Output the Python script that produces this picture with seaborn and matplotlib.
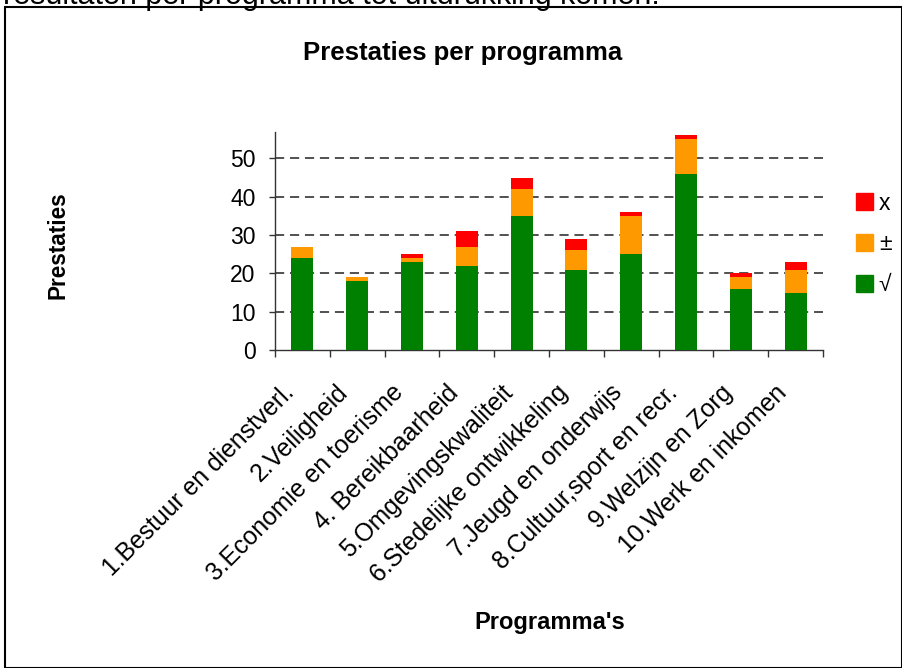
import numpy as np
import pandas as pd
import seaborn as sns
import matplotlib.pyplot as plt
import matplotlib.transforms as mtransforms
from matplotlib.patches import Rectangle, Patch

programmas = ["1.Bestuur en dienstverl.", "2.Veiligheid", "3.Economie en toerisme",
              "4. Bereikbaarheid", "5.Omgevingskwaliteit", "6.Stedelijke ontwikkeling",
              "7.Jeugd en onderwijs", "8.Cultuur,sport en recr.", "9.Welzijn en Zorg",
              "10.Werk en inkomen"]
goed = [24, 18, 23, 22, 35, 21, 25, 46, 16, 15]      # √
matig = [3, 1, 1, 5, 7, 5, 10, 9, 3, 6]              # ±
fout = [0, 0, 1, 4, 3, 3, 1, 1, 1, 2]                # x

sns.set_style("white")
plt.rcParams['font.family'] = ['Liberation Sans', 'DejaVu Sans']
plt.rcParams['text.color'] = 'black'
plt.rcParams['axes.labelcolor'] = 'black'
plt.rcParams['xtick.color'] = 'black'
plt.rcParams['ytick.color'] = 'black'

df = pd.DataFrame({"programma": programmas, "goed": goed, "matig": matig, "fout": fout})
df["tot_matig"] = df["goed"] + df["matig"]
df["totaal"] = df["tot_matig"] + df["fout"]

fig = plt.figure(figsize=(9.03, 6.68), dpi=100)
ax = fig.add_axes([0.3045, 0.476, 0.607, 0.326])

# stapelen door totalen over elkaar te tekenen
sns.barplot(data=df, x="programma", y="totaal", color="#ff0000", width=0.4,
            saturation=1, ax=ax, zorder=3, linewidth=0, edgecolor='none')
sns.barplot(data=df, x="programma", y="tot_matig", color="#ff9900", width=0.4,
            saturation=1, ax=ax, zorder=3, linewidth=0, edgecolor='none')
sns.barplot(data=df, x="programma", y="goed", color="#008000", width=0.4,
            saturation=1, ax=ax, zorder=3, linewidth=0, edgecolor='none')

fs = 16.5
ax.set_xlim(-0.5, 9.5)
ax.set_ylim(0, 56.8)
ax.set_yticks([0, 10, 20, 30, 40, 50])
ax.tick_params(axis='y', labelsize=fs, length=4, direction='out', left=True, width=1,
               color='#333333', pad=10)
for y in [10, 20, 30, 40, 50]:
    ax.axhline(y, color='#222222', lw=1.1, ls=(0, (6, 3.8)), zorder=1)

ax.set_xticks(np.arange(len(programmas)))
ax.set_xticklabels(programmas, rotation=45, ha='right', va='center', rotation_mode='anchor',
                   fontsize=17.8)
ax.tick_params(axis='x', length=0, pad=22)
ax.set_xticks(np.arange(-0.5, 10, 1), minor=True)
ax.tick_params(axis='x', which='minor', length=5, direction='out', bottom=True, width=1,
               color='#333333')
shift = mtransforms.ScaledTranslation(-9 / 72, -6 / 72, fig.dpi_scale_trans)
for lab in ax.get_xticklabels():
    lab.set_transform(lab.get_transform() + shift)

for side in ['top', 'right']:
    ax.spines[side].set_visible(False)
for side in ['left', 'bottom']:
    ax.spines[side].set_color('#333333')
    ax.spines[side].set_linewidth(1)
ax.set_xlabel("")
ax.set_ylabel("")

fig.text(463 / 903, 1 - 53 / 668, "Prestaties per programma", ha='center', va='center',
         fontsize=18.5, fontweight='bold')
fig.text(58 / 903, 1 - 245 / 668, "Prestaties", ha='center', va='center', rotation=90,
         fontsize=16.3, fontweight='bold')
fig.text(550 / 903, 1 - 623 / 668, "Programma's", ha='center', va='center',
         fontsize=17, fontweight='bold')
fig.text(3 / 903, 1 - 4 / 668, "resultaten per programma tot uitdrukking komen.", ha='left',
         va='baseline', fontsize=22)

handles = [Patch(color="#ff0000"), Patch(color="#ff9900"), Patch(color="#008000")]
fig.legend(handles, ["x", "±", "√"], loc='center left', bbox_to_anchor=(856 / 903, 1 - 244 / 668),
           frameon=False, fontsize=fs, handlelength=0.75, handleheight=0.75,
           handletextpad=0.25, labelspacing=0.78, borderpad=0, borderaxespad=0)

fig.patches.append(Rectangle((5 / 903, 0), 897 / 903, 1 - 7 / 668, transform=fig.transFigure,
                             fill=False, edgecolor='black', lw=1.5))

fig.savefig("out.png", dpi=100)
